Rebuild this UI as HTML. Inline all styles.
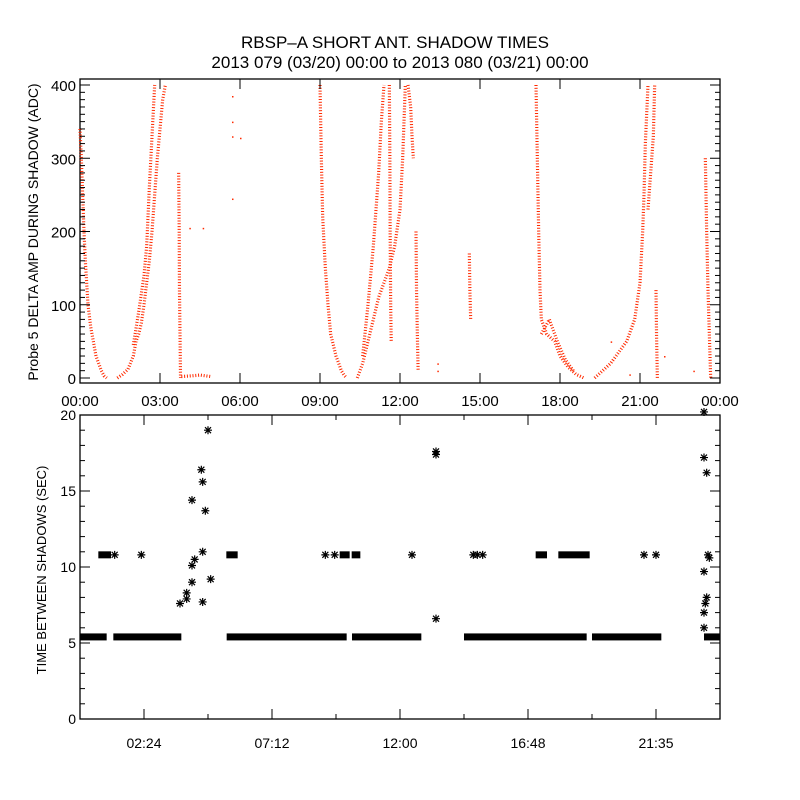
<!DOCTYPE html>
<html><head><meta charset="utf-8"><style>
html,body{margin:0;padding:0;background:#fff;}
svg{display:block;font-family:"Liberation Sans",sans-serif;}
</style></head><body>
<svg id="chart" width="800" height="800" viewBox="0 0 800 800" xmlns="http://www.w3.org/2000/svg">
<rect width="800" height="800" fill="#fff"/>
<text x="395" y="48" font-size="17" text-anchor="middle">RBSP–A SHORT ANT. SHADOW TIMES</text>
<text x="400" y="68" font-size="17" text-anchor="middle">2013 079 (03/20) 00:00 to 2013 080 (03/21) 00:00</text>
<g id="topPanel"></g>
<g id="botPanel"></g>
</svg>
<script>
// ---------- TOP PANEL DATA (hour, ADC) ----------
const topTicks = ["00:00","03:00","06:00","09:00","12:00","15:00","18:00","21:00","00:00"];
const topYTicks = [0,100,200,300,400];
const branchDesc1 = [[0,340],[0.05,300],[0.1,250],[0.15,200],[0.2,160],[0.25,130],[0.3,100],[0.4,70],[0.5,50],[0.6,30],[0.7,20],[0.8,10],[0.9,3],[1.0,0]];
const branchRise1 = [[1.4,0],[1.6,5],[1.8,12],[2.0,30],[2.1,50],[2.2,60],[2.3,75],[2.4,100],[2.5,130],[2.6,160],[2.7,200],[2.8,250],[2.9,300],[3.0,340],[3.1,380],[3.2,400]];
const branchRise1b = [[2.0,45],[2.2,90],[2.4,140],[2.5,180],[2.6,260],[2.7,330],[2.8,400]];
const branchVert1 = [[3.7,280],[3.72,200],[3.73,120],[3.75,60],[3.77,0]];
const branchLow1 = [[3.8,2],[4.2,3],[4.5,4],[4.9,2]];
const branchDesc2 = [[9.0,400],[9.05,300],[9.1,220],[9.2,150],[9.3,100],[9.4,60],[9.5,45],[9.6,30],[9.7,20],[9.8,10],[9.9,4],[10.0,0]];
const branchRise2 = [[10.4,0],[10.6,20],[10.8,50],[11.0,80],[11.2,110],[11.4,130],[11.6,150],[11.8,180],[12.0,230],[12.1,300],[12.2,400]];
const branchRise2b = [[10.6,30],[10.8,100],[11.0,180],[11.2,280],[11.3,350],[11.4,400]];
const branchVert2 = [[11.6,400],[11.62,300],[11.63,200],[11.65,100],[11.67,50]];
const branchHi2 = [[12.3,400],[12.4,370],[12.45,330],[12.5,300]];
const branchVert3 = [[12.6,200],[12.62,120],[12.65,60],[12.68,10]];
const branchVert4 = [[14.6,170],[14.62,120],[14.65,80]];
const branchDesc3 = [[17.1,400],[17.15,300],[17.2,200],[17.25,120],[17.3,80],[17.5,60],[17.8,50],[18.0,30],[18.3,15],[18.6,5],[18.9,0]];
const branchDesc3b = [[17.3,60],[17.6,80],[17.9,50],[18.2,25],[18.5,10]];
const branchRise3 = [[19.3,0],[19.6,10],[19.9,20],[20.2,35],[20.5,50],[20.8,80],[21.0,130],[21.1,200],[21.15,250],[21.2,320],[21.3,400]];
const branchHi3 = [[21.3,230],[21.4,280],[21.5,330],[21.55,400]];
const branchVert5 = [[21.6,120],[21.62,60],[21.65,0]];
const branchEnd = [[23.45,300],[23.5,200],[23.55,120],[23.6,60],[23.65,0]];
const sparseDots = [[5.7,385],[5.7,350],[5.7,330],[5.7,245],[6.0,328],[4.1,205],[4.6,205],[13.4,10],[13.4,20],[19.9,50],[20.6,5],[21.9,30],[23.0,10]];
const topSeries = [branchDesc1,branchRise1,branchRise1b,branchVert1,branchLow1,branchDesc2,branchRise2,branchRise2b,branchVert2,branchHi2,branchVert3,branchVert4,branchDesc3,branchDesc3b,branchRise3,branchHi3,branchVert5,branchEnd];

// ---------- BOTTOM PANEL DATA (hour, seconds) ----------
const botTicks = ["02:24","07:12","12:00","16:48","21:35"];
const botTickHours = [2.4,7.2,12.0,16.8,21.6];
const botYTicks = [0,5,10,15,20];
const baseSegments = [[0,1.0],[1.25,3.8],[5.5,10.0],[10.2,12.8],[14.4,19.0],[19.2,21.8],[23.4,24]];
const baseValue = [5.4];
const longSegments = [[0.8,1.05],[5.6,5.8],[9.85,10.0],[10.3,10.4],[17.2,17.4],[18.05,19.0]];
const longValue = [10.8];
const stars = [[1.3,10.8],[2.3,10.8],[9.2,10.8],[9.55,10.8],[12.45,10.8],[14.75,10.8],[14.9,10.8],[15.1,10.8],[21.15,10.8],[21.6,10.8],[23.55,10.8],
[13.35,17.6],[13.35,17.4],[13.35,6.6],
[3.75,7.6],[4.0,7.9],[4.0,8.3],[4.2,10.1],[4.3,10.5],[4.2,14.4],[4.2,9.0],[4.55,16.4],[4.6,15.6],[4.6,11.0],[4.6,7.7],[4.7,13.7],[4.8,19.0],[4.9,9.2],
[23.4,20.2],[23.4,17.2],[23.5,16.2],[23.6,10.6],[23.4,9.7],[23.5,8.0],[23.45,7.6],[23.4,7.0],[23.4,6.0]];

const NS="http://www.w3.org/2000/svg";
function mk(parent,tag,attrs){const e=document.createElementNS(NS,tag);for(const k in attrs)e.setAttribute(k,attrs[k]);parent.appendChild(e);return e;}
const X0=80,X1=720;
const xs=h=>X0+h*(X1-X0)/24;
const yTop=v=>378-v*(293/400);
const yBot=v=>719-v*15.2;

// TOP
const topG=document.getElementById('topPanel');


const tf=mk(topG,'rect',{x:80,y:79,width:640,height:304,fill:'none',stroke:'#000','stroke-width':1.3});


topSeries.forEach((s,i)=>{
  const pl=mk(topG,'polyline',{points:s.map(p=>xs(p[0])+','+yTop(p[1])).join(' '),fill:'none',stroke:'#ff2a00','stroke-width':3.2,'stroke-dasharray':'1 1.8'});
  
  
});
sparseDots.forEach(p=>{
  const r=mk(topG,'rect',{x:xs(p[0]),y:yTop(p[1]),width:1.5,height:1.5,fill:'#ff2a00'});
  
  
});
for(let i=0;i<=40;i++){const v=i*10,y=yTop(v),len=(v%100===0)?10:5;
  mk(topG,'line',{x1:80,x2:80+len,y1:y,y2:y,stroke:'#000'});mk(topG,'line',{x1:720,x2:720-len,y1:y,y2:y,stroke:'#000'});}
topYTicks.forEach(v=>{const t=mk(topG,'text',{x:76,y:yTop(v)+6,'font-size':15,'text-anchor':'end'});t.textContent=v;
  
  });
topTicks.forEach((l,i)=>{const x=xs(i*3);mk(topG,'line',{x1:x,x2:x,y1:383,y2:373,stroke:'#000'});mk(topG,'line',{x1:x,x2:x,y1:79,y2:89,stroke:'#000'});
  const t=mk(topG,'text',{x:x,y:406,'font-size':15,'text-anchor':'middle'});t.textContent=l;
  
  });
const yt=mk(topG,'text',{x:0,y:0,'font-size':14,'text-anchor':'middle',transform:'translate(38,232) rotate(-90)'});yt.textContent='Probe 5 DELTA AMP DURING SHADOW (ADC)';



// BOTTOM
const botG=document.getElementById('botPanel');


const bf=mk(botG,'rect',{x:80,y:415,width:640,height:304,fill:'none',stroke:'#000','stroke-width':1.3});


baseSegments.forEach(s=>{const r=mk(botG,'rect',{x:xs(s[0]),y:yBot(baseValue[0])-3.5,width:xs(s[1])-xs(s[0]),height:7,fill:'#000'});
  
  });
longSegments.forEach(s=>{const r=mk(botG,'rect',{x:xs(s[0])-3,y:yBot(longValue[0])-3.5,width:xs(s[1])-xs(s[0])+6,height:7,fill:'#000'});
  
  });
stars.forEach(p=>{const cx=xs(p[0]),cy=yBot(p[1]),r=4;
  const d=`M${cx-r},${cy}H${cx+r}M${cx},${cy-r}V${cy+r}M${cx-r+1},${cy-r+1}L${cx+r-1},${cy+r-1}M${cx-r+1},${cy+r-1}L${cx+r-1},${cy-r+1}`;
  const st=mk(botG,'path',{d:d,stroke:'#000','stroke-width':1.2,fill:'none'});
  
  });
for(let i=0;i<=20;i++){const y=yBot(i),len=(i%5===0)?10:5;
  mk(botG,'line',{x1:80,x2:80+len,y1:y,y2:y,stroke:'#000'});mk(botG,'line',{x1:720,x2:720-len,y1:y,y2:y,stroke:'#000'});}
botYTicks.forEach(v=>{const t=mk(botG,'text',{x:76,y:yBot(v)+5,'font-size':14,'text-anchor':'end'});t.textContent=v;
  
  });
for(let i=1;i<10;i++){const x=xs(i*2.4),len=(i%2===1)?10:5;
  mk(botG,'line',{x1:x,x2:x,y1:719,y2:719-len,stroke:'#000'});mk(botG,'line',{x1:x,x2:x,y1:415,y2:415+len,stroke:'#000'});}
botTicks.forEach((l,i)=>{const t=mk(botG,'text',{x:xs(botTickHours[i]),y:748,'font-size':14,'text-anchor':'middle'});t.textContent=l;
  
  });
const yt2=mk(botG,'text',{x:0,y:0,'font-size':13,'text-anchor':'middle',transform:'translate(46,570) rotate(-90)'});yt2.textContent='TIME BETWEEN SHADOWS (SEC)';


</script>
</body></html>
